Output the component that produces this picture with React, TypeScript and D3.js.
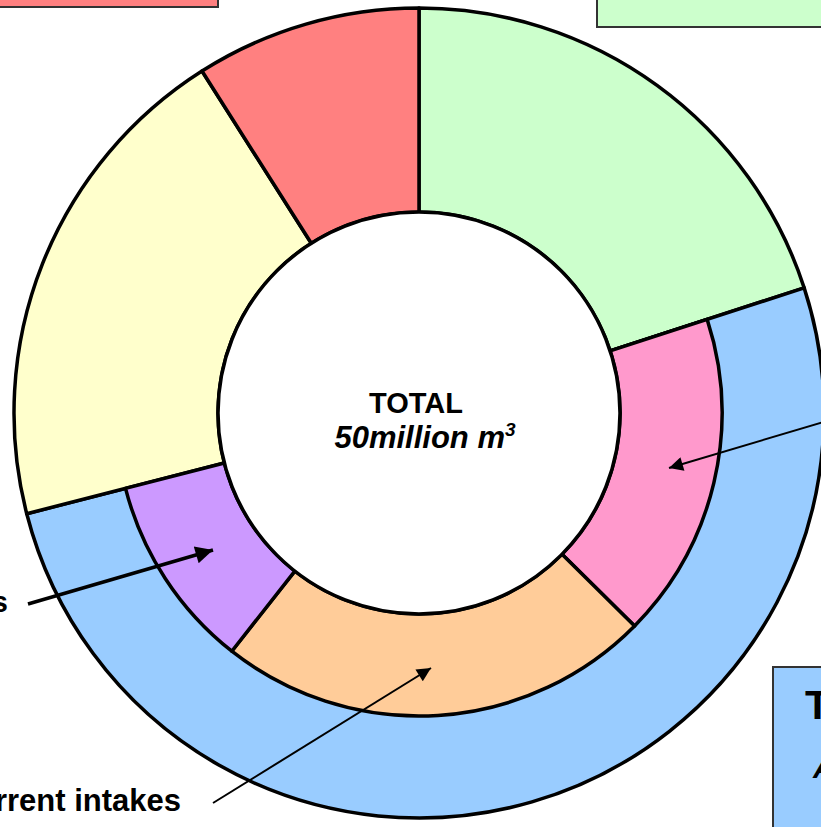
import React from "react";
import * as d3 from "d3";

// Outer ring: share of the 50 million m³ total (million m³), clockwise from 12 o'clock
const outerNames = ["Green", "Blue", "Yellow", "Red"];
const outerValues = [10, 25.5, 10, 4.5];
const outerColors = ["#CCFFCC", "#99CCFF", "#FFFFCC", "#FF8080"];

// Breakdown of the blue segment, drawn on the inner half of the ring
const innerNames = ["Pink", "Orange", "Purple"];
const innerValues = [8.7, 11.6, 5.2];
const innerColors = ["#FF99CC", "#FFCC99", "#CC99FF"];

const centerTitle = "TOTAL";
const centerValue = "50million m";

const W = 821;
const H = 827;
const cx = 419;
const cy = 413;
const rIn = 201;
const rMid = 303;
const rOut = 405;

export default function App() {
  const pie = d3
    .pie<number>()
    .sort(null)
    .value((d) => d)
    .startAngle(0)
    .endAngle(2 * Math.PI);
  const outerArcs = pie(outerValues);

  const blue = outerArcs[1];
  const innerPie = d3
    .pie<number>()
    .sort(null)
    .value((d) => d)
    .startAngle(blue.startAngle)
    .endAngle(blue.endAngle);
  const innerArcs = innerPie(innerValues);

  const outerArc = d3.arc<d3.PieArcDatum<number>>().innerRadius(rIn).outerRadius(rOut);
  const innerArc = d3.arc<d3.PieArcDatum<number>>().innerRadius(rIn).outerRadius(rMid);

  const font = "Arial, 'Liberation Sans', sans-serif";

  return (
    <svg
      width={W}
      height={H}
      viewBox={`0 0 ${W} ${H}`}
      style={{ position: "absolute", left: 0, top: 0, background: "#fff" }}
    >
      <defs>
        <marker id="headBig" viewBox="0 0 10 10" refX="10" refY="5" markerWidth="6" markerHeight="5" markerUnits="strokeWidth" orient="auto">
          <path d="M0,0 L10,5 L0,10 Z" fill="#000" />
        </marker>
        <marker id="headThin" viewBox="0 0 10 10" refX="10" refY="5" markerWidth="9" markerHeight="7" markerUnits="strokeWidth" orient="auto">
          <path d="M0,0 L10,5 L0,10 Z" fill="#000" />
        </marker>
      </defs>

      {/* boxes around the chart */}
      <rect x={-10} y={-40} width={228} height={47} fill="#FF8080" stroke="#333" strokeWidth={2} />
      <rect x={597} y={-40} width={240} height={67} fill="#CCFFCC" stroke="#333" strokeWidth={2} />
      <rect x={773} y={667} width={80} height={200} fill="#99CCFF" stroke="#333" strokeWidth={2} />
      <text x={805} y={719} fontFamily={font} fontWeight="bold" fontSize={41}>TOTAL</text>
      <text x={813} y={778} fontFamily={font} fontWeight="bold" fontStyle="italic" fontSize={30}>Approx</text>

      <g transform={`translate(${cx},${cy})`}>
        {outerArcs.map((a, i) => (
          <path key={outerNames[i]} d={outerArc(a) ?? ""} fill={outerColors[i]} stroke="#000" strokeWidth={3.5} strokeLinejoin="round" />
        ))}
        {innerArcs.map((a, i) => (
          <path key={innerNames[i]} d={innerArc(a) ?? ""} fill={innerColors[i]} stroke="#000" strokeWidth={3.5} strokeLinejoin="round" />
        ))}
        <circle r={rIn} fill="#fff" stroke="#000" strokeWidth={3.5} />
        <text x={-3} y={0} textAnchor="middle" fontFamily={font} fontWeight="bold" fontSize={29}>
          {centerTitle}
        </text>
        <text x={6} y={35} textAnchor="middle" fontFamily={font} fontWeight="bold" fontStyle="italic" fontSize={31}>
          {centerValue}
          <tspan dy={-12} fontSize={19}>3</tspan>
        </text>
      </g>

      {/* callouts */}
      <line x1={28} y1={604} x2={213} y2={550} stroke="#000" strokeWidth={3.5} markerEnd="url(#headBig)" />
      <line x1={213} y1={803} x2={431} y2={668} stroke="#000" strokeWidth={2} markerEnd="url(#headThin)" />
      <line x1={830} y1={420} x2={669} y2={468} stroke="#000" strokeWidth={2} markerEnd="url(#headThin)" />

      <text x={8} y={612} textAnchor="end" fontFamily={font} fontWeight="bold" fontSize={29}>Other uses</text>
      <text x={181} y={811} textAnchor="end" fontFamily={font} fontWeight="bold" fontSize={31}>Current intakes</text>
    </svg>
  );
}
